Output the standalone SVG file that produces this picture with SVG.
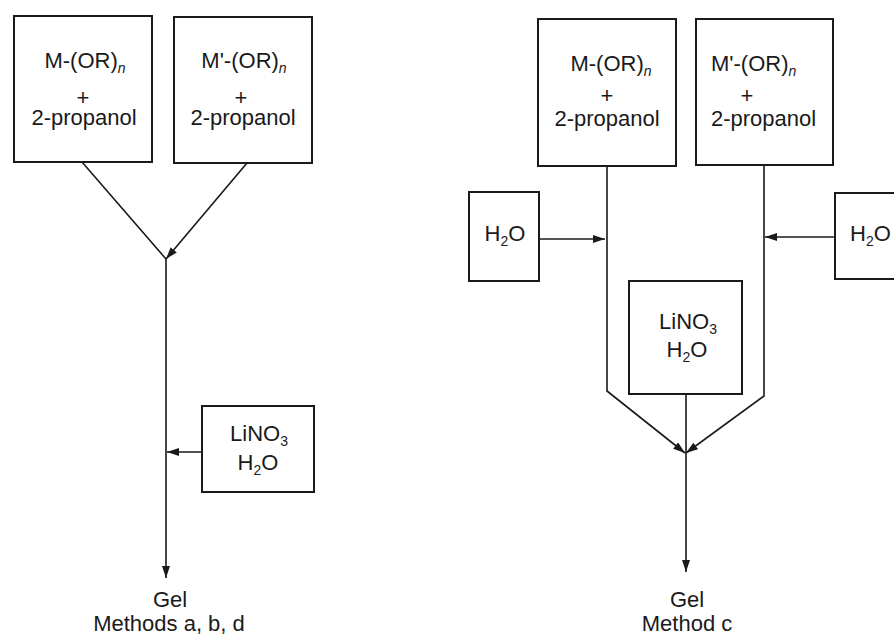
<svg xmlns="http://www.w3.org/2000/svg" width="894" height="634" viewBox="0 0 894 634">
<style>
.box{fill:#fff;stroke:#1a1a1a;stroke-width:2}
.ln{fill:none;stroke:#1a1a1a;stroke-width:1.6}
text{font-family:"Liberation Sans",Arial,sans-serif;font-size:22px;fill:#1a1a1a}
.m{text-anchor:middle}
.sub{font-size:14px}
.it{font-size:14px;font-style:italic}
</style>
<defs>
<marker id="ah" markerUnits="userSpaceOnUse" markerWidth="13" markerHeight="9" refX="12" refY="4" orient="auto">
<path d="M0,0 L12,4 L0,8 z" fill="#1a1a1a"/>
</marker>
</defs>
<rect width="894" height="634" fill="#fff"/>

<g id="connectors">
<path class="ln" d="M82,162 L166,259"/>
<path class="ln" d="M247,163 L166,259" marker-end="url(#ah)"/>
<path class="ln" d="M166,259 L166,578" marker-end="url(#ah)"/>
<path class="ln" d="M202,452 L167,452" marker-end="url(#ah)"/>
<path class="ln" d="M607,166 L607,391 L685,453" marker-end="url(#ah)"/>
<path class="ln" d="M764,165 L764,396 L686,453" marker-end="url(#ah)"/>
<path class="ln" d="M686,394 L686,572" marker-end="url(#ah)"/>
<path class="ln" d="M539,239 L605,239" marker-end="url(#ah)"/>
<path class="ln" d="M835,237 L765,237" marker-end="url(#ah)"/>
</g>

<g id="n1">
<rect class="box" x="14" y="16" width="138" height="146"/>
<text class="m" x="85" y="68">M-(OR)<tspan class="it" dy="5">n</tspan></text>
<text class="m" x="83" y="105">+</text>
<text class="m" x="84" y="125">2-propanol</text>
</g>
<g id="n2">
<rect class="box" x="174" y="17" width="138" height="146"/>
<text class="m" x="244" y="68">M'-(OR)<tspan class="it" dy="5">n</tspan></text>
<text class="m" x="241" y="105">+</text>
<text class="m" x="243" y="125">2-propanol</text>
</g>
<g id="n3">
<rect class="box" x="202" y="406" width="112" height="86"/>
<text class="m" x="259" y="441">LiNO<tspan class="sub" dy="5">3</tspan></text>
<text class="m" x="258" y="470">H<tspan class="sub" dy="5">2</tspan><tspan dy="-5">O</tspan></text>
</g>
<g id="n4">
<text class="m" x="170" y="607">Gel</text>
<text class="m" x="169" y="631">Methods a, b, d</text>
</g>

<g id="n5">
<rect class="box" x="538" y="19" width="138" height="147"/>
<text class="m" x="611" y="71">M-(OR)<tspan class="it" dy="5">n</tspan></text>
<text class="m" x="607" y="103">+</text>
<text class="m" x="607" y="126">2-propanol</text>
</g>
<g id="n6">
<rect class="box" x="696" y="19" width="137" height="146"/>
<text x="711" y="71">M'-(OR)<tspan class="it" dy="5">n</tspan></text>
<text class="m" x="747" y="103">+</text>
<text x="711" y="126">2-propanol</text>
</g>
<g id="n7">
<rect class="box" x="469" y="192" width="70" height="89"/>
<text class="m" x="505" y="241">H<tspan class="sub" dy="5">2</tspan><tspan dy="-5">O</tspan></text>
</g>
<g id="n8">
<rect class="box" x="835" y="193" width="70" height="86"/>
<text x="850" y="241">H<tspan class="sub" dy="5">2</tspan><tspan dy="-5">O</tspan></text>
</g>
<g id="n9">
<rect class="box" x="629" y="281" width="113" height="113"/>
<text class="m" x="688" y="329">LiNO<tspan class="sub" dy="5">3</tspan></text>
<text class="m" x="687" y="357">H<tspan class="sub" dy="5">2</tspan><tspan dy="-5">O</tspan></text>
</g>
<g id="n10">
<text class="m" x="687" y="607">Gel</text>
<text class="m" x="687" y="631">Method c</text>
</g>
</svg>
